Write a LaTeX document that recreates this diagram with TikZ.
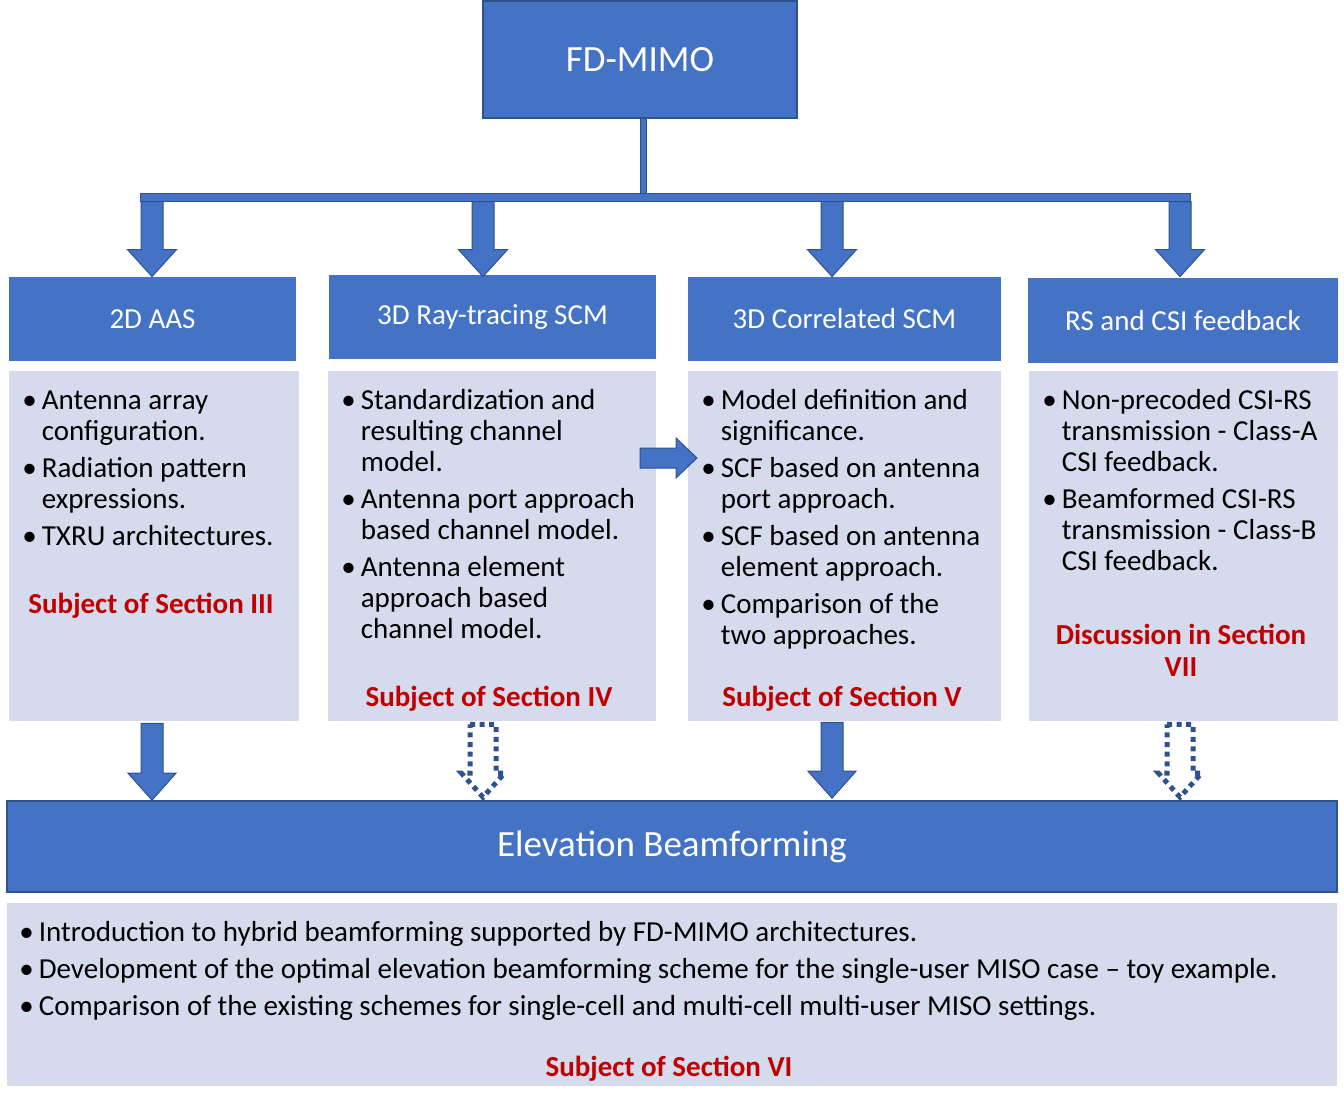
\documentclass[tikz,border=0pt]{standalone}
\usepackage{fontspec}
\setmainfont{Carlito}
\usetikzlibrary{calc,positioning}
\definecolor{mimoblue}{HTML}{4472C4}
\definecolor{mimoedge}{HTML}{2F528F}
\definecolor{panelgray}{HTML}{D6DAED}
\definecolor{sectred}{HTML}{C00000}
\tikzset{
  rootbox/.style={
    draw=mimoedge,
    line width=0.8pt,
    fill=mimoblue,
    text=white,
    inner sep=0pt,
    font=\fontsize{18.5}{22}\selectfont,
  },
  headbox/.style={
    fill=mimoblue,
    text=white,
    inner sep=0pt,
    minimum height=42pt,
    font=\fontsize{14.5}{17}\selectfont,
  },
  barbox/.style={draw=mimoedge, line width=0.5pt, fill=mimoblue, inner sep=0pt},
  panel/.style={fill=panelgray, inner sep=0pt, minimum height=175pt},
  itemlist/.style={anchor=base west, inner sep=0pt, font=\fontsize{14.5}{15.5}\selectfont},
  sectiontext/.style={anchor=base, inner sep=0pt, align=center, text=sectred,
    font=\fontsize{14.5}{16}\selectfont\bfseries},
  stem/.style={draw=mimoedge, line width=0.5pt, double=mimoblue, double distance=2.5pt},
  fatarrow/.style={fill=mimoblue, draw=mimoedge, line width=0.5pt},
  dotarrow/.style={draw=mimoedge, line width=2.5pt, dash pattern=on 2.5pt off 2.3pt},
}
% block arrows: style, from, to, half shaft, half head, head length
\newcommand{\blockdown}[6]{%
  \path[#1] let \p1=#2, \p2=#3 in
    ({\x1-#4},\y1) -- ({\x1+#4},\y1) -- ({\x1+#4},{\y2+#6})
    -- ({\x1+#5},{\y2+#6}) -- (\x1,\y2) -- ({\x1-#5},{\y2+#6})
    -- ({\x1-#4},{\y2+#6}) -- cycle;}
\newcommand{\blockright}[6]{%
  \path[#1] let \p1=#2, \p2=#3 in
    (\x1,{\y1+#4}) -- ({\x2-#6},{\y1+#4}) -- ({\x2-#6},{\y1+#5})
    -- (\x2,\y1) -- ({\x2-#6},{\y1-#5}) -- ({\x2-#6},{\y1-#4})
    -- (\x1,{\y1-#4}) -- cycle;}

\begin{document}
\begin{tikzpicture}[x=0.5pt,y=-0.5pt]
  \useasboundingbox (0,0) rectangle (1344,1102);

  % root and branching bar
  \node[rootbox, minimum width=157pt, minimum height=58.5pt] (root) at (640,59.5) {FD-MIMO};
  \node[barbox, minimum width=525pt, minimum height=4pt] (bar) at (665,197) {};
  \draw[stem] ([xshift=1.5pt]root.south) -- ([xshift=1.5pt]root.south |- bar.north);

  % headers
  \node[headbox, minimum width=143.5pt] (h1) at (152.5,319) {2D AAS};
  \node[headbox, minimum width=163.5pt] (h2) at (492.5,317) {\raisebox{-1pt}{3D Ray-tracing SCM}};
  \node[headbox, minimum width=156.5pt] (h3) at (844.5,319) {3D Correlated SCM};
  \node[headbox, minimum width=155pt, minimum height=42.5pt] (h4) at (1183,320.5) {RS and CSI feedback};

  \coordinate (a1) at ([xshift=-0.25pt]h1.north);
  \coordinate (a2) at ([xshift=-4.75pt,yshift=-1pt]h2.north);
  \coordinate (a3) at ([xshift=-6.25pt]h3.north);
  \coordinate (a4) at ([xshift=-1.5pt,yshift=0.5pt]h4.north);
  \foreach \a in {a1,a2,a3,a4}
    \blockdown{fatarrow}{(\a |- bar.south)}{(\a)}{5.5pt}{12.25pt}{13.5pt};

  % panels
  \node[panel, minimum width=145pt] (p1) at (154,546) {};
  \node[panel, minimum width=164pt] (p2) at (492,546) {};
  \node[panel, minimum width=156.5pt] (p3) at (844.5,546) {};
  \node[panel, minimum width=154.5pt] (p4) at (1183.5,546) {};

  \node[itemlist] (t1) at (22,409) {\begin{tabular}[t]{@{}l@{\hspace{2.5pt}}l@{}}
    \textbullet & Antenna array\\
                & configuration.\\[3pt]
    \textbullet & Radiation pattern\\
                & expressions.\\[3pt]
    \textbullet & TXRU architectures.
  \end{tabular}};
  \node[itemlist] (t2) at (341,409) {\begin{tabular}[t]{@{}l@{\hspace{2.5pt}}l@{}}
    \textbullet & Standardization and\\
                & resulting channel\\
                & model.\\[3pt]
    \textbullet & Antenna port approach\\
                & based channel model.\\[3pt]
    \textbullet & Antenna element\\
                & approach based\\
                & channel model.
  \end{tabular}};
  \node[itemlist] (t3) at (701,409) {\begin{tabular}[t]{@{}l@{\hspace{2.5pt}}l@{}}
    \textbullet & Model definition and\\
                & significance.\\[3pt]
    \textbullet & SCF based on antenna\\
                & port approach.\\[3pt]
    \textbullet & SCF based on antenna\\
                & element approach.\\[3pt]
    \textbullet & Comparison of the\\
                & two approaches.
  \end{tabular}};
  \node[itemlist] (t4) at (1042,409) {\begin{tabular}[t]{@{}l@{\hspace{2.5pt}}l@{}}
    \textbullet & Non-precoded CSI-RS\\
                & transmission - Class-A\\
                & CSI feedback.\\[3pt]
    \textbullet & Beamformed CSI-RS\\
                & transmission - Class-B\\
                & CSI feedback.
  \end{tabular}};

  \node[sectiontext] (s1) at (151,613) {Subject of Section III};
  \node[sectiontext] (s2) at (489,706) {Subject of Section IV};
  \node[sectiontext] (s3) at (842,706) {Subject of Section V};
  \node[sectiontext] (s4) at (1181,676) {Discussion in Section\\VII};

  % link between the two channel models
  \coordinate (linkA) at (640,458);
  \coordinate (linkB) at (697,458);
  \blockright{fatarrow}{(linkA)}{(linkB)}{5pt}{10pt}{10.5pt};

  % elevation beamforming
  \node[rootbox, minimum width=665pt, minimum height=45.5pt] (elev) at (672,846.5) {\raisebox{-1.5pt}{Elevation Beamforming}};
  \node[panel, minimum width=665pt, minimum height=91.5pt] (p5) at (672,994.5) {};
  \node[itemlist] (t5) at (19,941) {\begin{tabular}[t]{@{}l@{\hspace{2.5pt}}l@{}}
    \textbullet & Introduction to hybrid beamforming supported by FD-MIMO architectures.\\[3pt]
    \textbullet & Development of the optimal elevation beamforming scheme for the single-user MISO case -- toy example.\\[3pt]
    \textbullet & Comparison of the existing schemes for single-cell and multi-cell multi-user MISO settings.
  \end{tabular}};
  \node[sectiontext] (s5) at (669,1076) {Subject of Section VI};

  \coordinate (b1) at ([xshift=-1pt,yshift=-1pt]p1.south);
  \coordinate (b2) at ([xshift=-4.5pt,yshift=-1.5pt]p2.south);
  \coordinate (b3) at ([xshift=-6.25pt,yshift=-0.5pt]p3.south);
  \coordinate (b4) at ([xshift=-1.75pt,yshift=-1.5pt]p4.south);
  \blockdown{fatarrow}{(b1)}{(b1 |- elev.north)}{5.5pt}{12pt}{13.5pt};
  \blockdown{fatarrow}{(b3)}{([yshift=1pt]b3 |- elev.north)}{5.5pt}{12pt}{13.5pt};
  \blockdown{dotarrow}{(b2)}{([yshift=1.5pt]b2 |- elev.north)}{6.5pt}{10.75pt}{12pt};
  \blockdown{dotarrow}{(b4)}{([yshift=1.5pt]b4 |- elev.north)}{6.5pt}{10.75pt}{12pt};
\end{tikzpicture}
\end{document}
